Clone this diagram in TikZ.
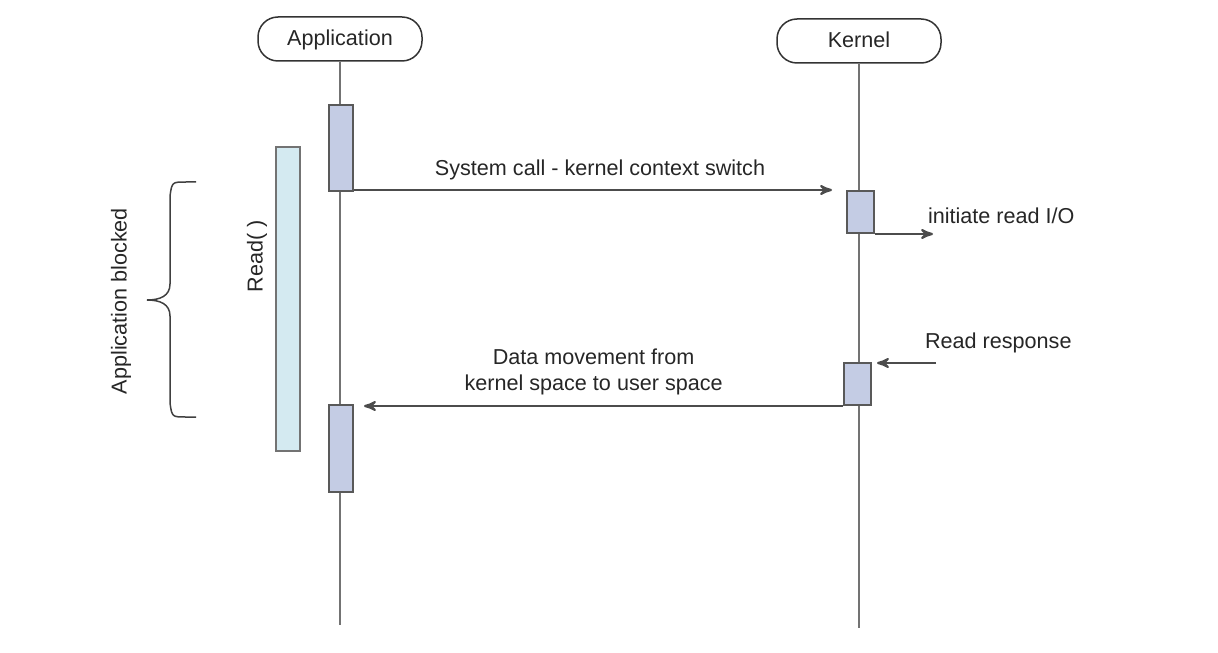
\documentclass[tikz,border=0pt]{standalone}
\usepackage{fontspec}
\setmainfont{Liberation Sans}
\usetikzlibrary{arrows,calc}
\definecolor{actblue}{RGB}{196,204,228}
\definecolor{readblue}{RGB}{212,234,241}
\tikzset{
%Define standard arrow tip
>=stealth',
%Define styles for heads, lifelines and bars
head/.style={draw=black!80, line width=0.75pt, rounded corners=10pt, minimum width=82pt, minimum height=22pt, text depth=1pt},
lifeline/.style={draw=black!55, line width=1pt},
activation/.style={draw=black!65, fill=actblue, line width=1pt, minimum width=12pt, inner sep=0pt},
readbar/.style={draw=black!55, fill=readblue, line width=1pt, minimum width=12pt, inner sep=0pt},
message/.style={draw=black!70, line width=1.1pt, ->},
brace/.style={draw=black!75, line width=0.75pt},
}

\begin{document}
\begin{tikzpicture}[x=0.5pt, y=-0.5pt, font=\fontsize{10.8}{13}\selectfont, text=black!85]
    \useasboundingbox (0,0) rectangle (1218,652);
    % Heads and lifelines
    \node[head] (app) at (340,39) {Application};
    \node[head] (kernel) at (859,41) {Kernel};
    \coordinate (append) at (340,625);
    \coordinate (kernelend) at (859,628);
    \draw[lifeline] (app.south) -- (append);
    \draw[lifeline] (kernel.south) -- (kernelend);
    % Bars
    \node[readbar, minimum height=152pt] (read) at (288,299) {};
    \node[activation, minimum height=43pt] (act1) at (341,148) {};
    \node[activation, minimum height=43.5pt] (act2) at (341,448.5) {};
    \node[activation, minimum width=13.5pt, minimum height=21pt] (kact1) at (860.5,212) {};
    \node[activation, minimum width=13.5pt, minimum height=21pt] (kact2) at (857.5,384) {};
    % Messages
    \coordinate (io) at (933,234);
    \coordinate (resp) at (936,363);
    \draw[message, shorten >=7pt] ($(act1.south east)+(0,-2)$) -- ($(act1.south east -| kact1.west)+(0,-2)$)
        node[pos=0.5, above=1pt] (callmsg) {System call - kernel context switch};
    \draw[message] (kact1.south east) -- (io);
    \node[anchor=west] (iolabel) at (921,216) {initiate read I/O};
    \draw[message, shorten >=2.5pt] (resp) -- (resp -| kact2.east);
    \node[anchor=west] (resplabel) at (918,343) {Read response};
    \draw[message, shorten >=5pt] (kact2.south west) -- (kact2.south west -| act2.east)
        node[pos=0.51, above=1.5pt, align=center] (datamsg) {Data movement from\\kernel space to user space};
    % Blocked interval
    \draw[brace] (196,182) -- (186,182) .. controls (172,182) .. (170,196) -- (170,284)
        .. controls (170,296) and (160,300) .. (147,300)
        .. controls (160,300) and (170,304) .. (170,316) -- (170,403)
        .. controls (172,417) .. (186,417) -- (196,417);
    \node[rotate=90] (blocked) at (121,301) {Application blocked};
    \node[rotate=90] (readlabel) at (257,256) {Read( )};
\end{tikzpicture}
\end{document}
